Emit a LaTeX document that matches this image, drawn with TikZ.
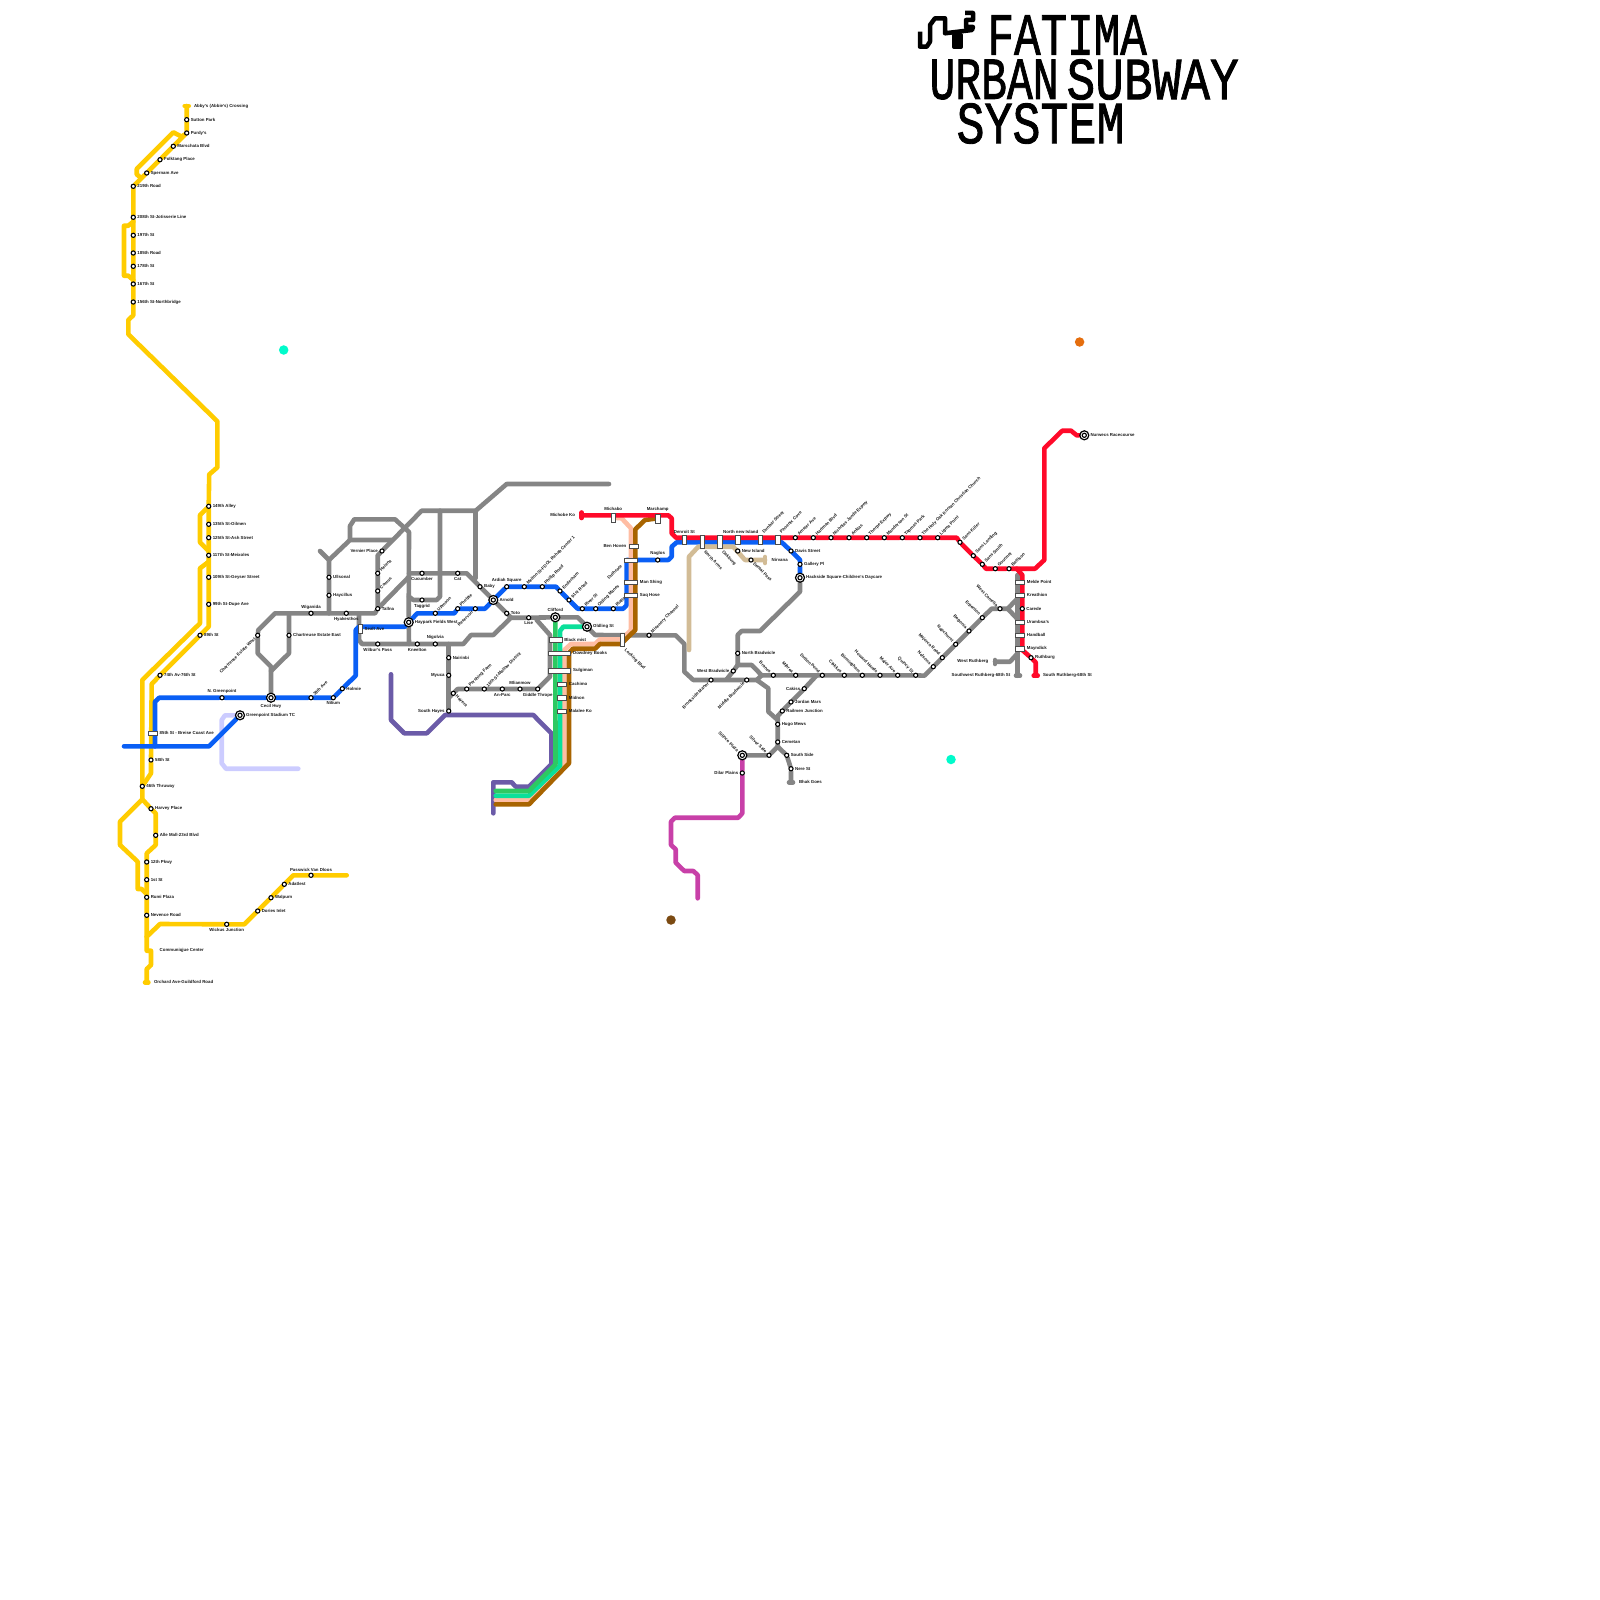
\documentclass[tikz,border=0pt]{standalone}
\usepackage{fontspec}
\setmainfont{Liberation Sans}
\newfontfamily\titlefont[FakeBold=1.5]{Liberation Mono}
\usetikzlibrary{positioning,backgrounds}
\definecolor{metroyel}{HTML}{FFCC00}
\definecolor{metroblu}{HTML}{0A5FF5}
\definecolor{metrored}{HTML}{FF0A2A}
\definecolor{metrogry}{HTML}{858585}
\definecolor{metropur}{HTML}{6B5BA8}
\definecolor{metrogrn}{HTML}{2DC962}
\definecolor{metroaqu}{HTML}{0AE09A}
\definecolor{metropea}{HTML}{FFBDA3}
\definecolor{metrobrn}{HTML}{A86400}
\definecolor{metrotan}{HTML}{D2BC96}
\definecolor{metrolav}{HTML}{CCCCFF}
\definecolor{metromag}{HTML}{C840A8}
\definecolor{spotcyan}{HTML}{00FBCB}
\definecolor{spotorng}{HTML}{E56E0E}
\definecolor{spotbrwn}{HTML}{7B4A12}
\tikzset{
  metro/.style={line width=0.046cm, line join=round, line cap=round},
  stn/.style={circle, draw=black, fill=white, line width=0.011cm, inner sep=0pt, minimum size=0.042cm},
  hubo/.style={circle, draw=black, fill=white, line width=0.012cm, inner sep=0pt, minimum size=0.09cm},
  xcw/.style={draw=black!70, fill=white, line width=0.005cm, inner sep=0pt, minimum width=0.09cm, minimum height=0.045cm},
  xcm/.style={xcw, minimum width=0.13cm},
  xcl/.style={xcw, minimum width=0.22cm},
  xct/.style={xcw, minimum width=0.045cm, minimum height=0.09cm},
  xcu/.style={xcw, minimum width=0.045cm, minimum height=0.13cm},
  lab/.style={font=\bfseries\fontsize{1.24}{1.4}\selectfont, text=black!90, inner xsep=0.034cm, inner ysep=0.034cm},
  labr/.style={lab, anchor=west},
  labl/.style={lab, anchor=east},
  laba/.style={lab, anchor=south},
  labb/.style={lab, anchor=north},
  labur/.style={lab, rotate=45, anchor=west},
  labdl/.style={lab, rotate=45, anchor=east},
  labdr/.style={lab, rotate=-45, anchor=west},
  labul/.style={lab, rotate=-45, anchor=east},
  labrr/.style={labr, inner xsep=0.015cm},
  labll/.style={labl, inner xsep=0.015cm},
  labaa/.style={laba, inner ysep=0.015cm},
  ttl/.style={font=\titlefont\fontsize{17}{17}\selectfont, anchor=west, inner sep=0pt, transform shape},
  spot/.style={circle, inner sep=0pt, minimum size=0.095cm},
}
\newcommand{\stp}[4]{\node[stn] (#1) at (#2) {}; \node[#3] (#1t) at (#1) {#4};}
\newcommand{\hubstp}[4]{\node[hubo] (#1) at (#2) {}; \node[stn] (#1c) at (#1) {}; \node[#3, inner xsep=0.055cm, inner ysep=0.055cm] (#1t) at (#1) {#4};}
\newcommand{\xch}[6]{\node[#3] (#1) at (#2) {}; \node[#5] (#1t) at (#1.#4) {#6};}
\begin{document}
\begin{tikzpicture}[x=0.01cm, y=-0.01cm]
  \useasboundingbox (0,0) rectangle (1600,1600);
  % title
  \node[ttl, xscale=0.74] (ttlone) at (987,35) {FATIMA};
  \node[ttl, xscale=0.72] (ttlurb) at (929,79.5) {URBAN};
  \node[ttl, xscale=0.80] (ttlsub) at (1066,79.5) {SUBWAY};
  \node[ttl, xscale=0.78] (ttlsys) at (956,123.5) {SYSTEM};
  \draw[line width=0.045cm, line join=round] (920,31.7) -- (920,46.7) -- (926.7,46.7) -- (930,41.7) -- (930,25) -- (935,18.3) -- (945,18.3) -- (945,33.3) -- (972,30) -- (973,27) -- (966,27) -- (966,20) -- (973,20) -- (973,13) -- (965,13);
  \fill[line width=0.04cm, draw=black, line join=round] (954,35) rectangle (961,47);
  % free spots
  \node[spot, fill=spotcyan] (spota) at (283.7,350) {};
  \node[spot, fill=spotcyan] (spotb) at (951,759.5) {};
  \node[spot, fill=spotorng] (spotc) at (1079.6,342) {};
  \node[spot, fill=spotbrwn] (spotd) at (671,920) {};
  % yellow stations
  \stp{sutton}{186.7,119.7}{labr}{Sutton Park}
  \stp{purdy}{186.7,133}{labr}{Purdy's}
  \stp{marsch}{173.3,146.3}{labr}{Marschata Blvd}
  \stp{folk}{160,159.7}{labr}{Folktang Place}
  \stp{spern}{146.7,173}{labr}{Spernam Ave}
  \stp{sttw}{133.3,186.3}{labr}{219th Road}
  \stp{stte}{133.3,217.3}{labr}{208th St-Jotisserie Line}
  \stp{stns}{133.3,235.3}{labr}{197th St}
  \stp{steif}{133.3,253}{labr}{185th Road}
  \stp{stse}{133.3,266.3}{labr}{178th St}
  \stp{stsix}{133.3,284}{labr}{167th St}
  \stp{stfif}{133.3,302}{labr}{156th St-Northbridge}
  \stp{alley}{208.7,506.3}{labr}{149th Alley}
  \stp{oilmen}{208.7,524.3}{labr}{135th St-Oilmen}
  \stp{ash}{208.7,537.7}{labr}{125th St-Ash Street}
  \stp{meix}{208.7,555.3}{labr}{117th St-Meixoles}
  \stp{geyser}{208.7,577.3}{labr}{109th St-Geyser Street}
  \stp{dupe}{208.7,604.3}{labr}{99th St-Dupe Ave}
  \stp{neight}{200,635.3}{labr}{89th St}
  \stp{seventy}{160,675.3}{labr}{74th Av-76th St}
  \stp{fiveeig}{151,760}{labr}{58th St}
  \stp{thruway}{142.3,786.3}{labr}{46th Thruway}
  \stp{harvey}{151,808.7}{labr}{Harvey Place}
  \stp{alle}{155.7,835.3}{labr}{Alle Mall-23rd Blvd}
  \stp{pkwy}{146.7,862}{labr}{12th Pkwy}
  \stp{first}{146.7,879.7}{labr}{1st St}
  \stp{rumi}{146.7,897.3}{labr}{Rumi Plaza}
  \stp{nevence}{146.7,915.3}{labr}{Nevence Road}
  \stp{wickus}{226.7,924.3}{labb}{Wickus Junction}
  \stp{dories}{257.7,911}{labr}{Dories Inlet}
  \stp{walpurn}{271,897.7}{labr}{Walpurn}
  \stp{adatlest}{284.3,884.3}{labr}{Adatlest}
  \stp{passw}{311,875.3}{laba}{Passwick Van Dloos}
  \node[lab, anchor=west, inner sep=0pt] (abbyt) at (193.3,106) {Abby's (Abbie's) Crossing};
  \node[lab, anchor=west, inner sep=0pt] (commt) at (159,950.7) {Communiqjue Center};
  \node[lab, anchor=west, inner sep=0pt] (orcht) at (153.3,982.3) {Orchard Ave-Guildford Road};
  % blue stations
  \stp{ngreen}{222,697.7}{laba}{N. Greenpoint}
  \hubstp{cecil}{271,697.7}{labb}{Cecil Hwy}
  \stp{nine}{311,697.7}{labur}{39th Ave}
  \stp{nilium}{333.3,697.7}{labb}{Nilium}
  \stp{holmie}{342.3,688.7}{labr}{Holmie}
  \hubstp{gstad}{240,715.3}{labr}{Greenpoint Stadium TC}
  \xch{breise}{152.7,733.3}{xcw}{east}{labrr}{85th St - Breise Coast Ave}
  \xch{sealt}{360,629}{xct}{east}{labrr}{Sealt Ave}
  \hubstp{haypark}{408.7,622.3}{labr}{Haypark Fields West}
  \stp{upmoon}{435.3,613.3}{labur}{Upmoon}
  \stp{phetpie}{457.7,608.7}{labur}{Phetpie}
  \stp{reserv}{475.3,608.7}{labdl}{Reservoir}
  \hubstp{arnold}{493.3,600}{labr}{Arnold}
  \stp{ardiah}{506.7,586.7}{laba}{Ardiah Square}
  \stp{melton}{524.3,586.7}{labur}{Melton St-FDOL Rehab Center 1}
  \stp{phillip}{542.3,586.7}{labur}{Phillip Road}
  \stp{ender}{560,591}{labur}{Enderham}
  \stp{nfirst}{569,600}{labur}{91st Road}
  \stp{river}{582.3,608.7}{labur}{River St}
  \stp{oldman}{595.7,608.7}{labur}{Olding Manes}
  \stp{rialto}{613.3,608.7}{labur}{Rialto}
  \stp{naglos}{657.7,560}{laba}{Naglos}
  \stp{davis}{791,551}{labr}{Davis Street}
  \stp{gallery}{800,564.3}{labr}{Gallery Pl}
  \hubstp{hackside}{800,577.7}{labr}{Hackside Square-Children's Daycare}
  % gray stations, middle
  \stp{ulls}{329,577.3}{labr}{Ullsonal}
  \stp{hayc}{329,595.3}{labr}{Haycillus}
  \stp{wiga}{311,613.3}{laba}{Wiganida}
  \stp{hyak}{346.3,613.3}{labb}{Hyakesthos}
  \stp{tallna}{377.7,608.7}{labr}{Tallna}
  \stp{vernier}{382,551}{labl}{Vernier Place}
  \stp{helena}{377.7,573.3}{labur}{Helena}
  \stp{comus}{377.7,591}{labur}{Comus}
  \stp{chaw}{257.7,635.3}{labdl}{Chartreuse Estate West}
  \stp{chae}{289,635.3}{labr}{Chartreuse Estate East}
  \stp{wilbur}{377.7,644}{labb}{Wilbur's Pass}
  \stp{kneel}{417.3,644}{labb}{Kneelton}
  \stp{nigol}{435.3,644}{laba}{Nigolvia}
  \stp{cucum}{422,573.3}{labb}{Cucumber}
  \stp{cat}{457.7,573.3}{labb}{Cat}
  \stp{tagg}{422,600}{labb}{Taggrid}
  \stp{baby}{480,586.7}{labr}{Baby}
  \stp{toto}{506.7,613.3}{labr}{Toto}
  \stp{lise}{528.7,617.7}{labb}{Lise}
  \hubstp{clifford}{555.3,617.3}{laba}{Clifford}
  \hubstp{oldling}{587,626.7}{labr}{Oldling St}
  \stp{misen}{649,635.3}{labur}{Misenery Channel}
  \stp{nairin}{448.7,657.7}{labr}{Nairinbi}
  \stp{myuca}{448.7,675.3}{labl}{Myuca}
  \stp{shayes}{448.7,711}{labl}{South Hayes}
  \stp{hayera}{453.3,693.3}{labdr}{Hayera}
  \stp{persh}{466.7,689}{labur}{Pershing Farm}
  \stp{mallow}{484.3,689}{labur}{16th St-Mallow District}
  \stp{anparc}{502.3,689}{labb}{An-Parc}
  \stp{mlian}{520,689}{laba}{Mlianmow}
  \stp{giddle}{537.7,689}{labb}{Giddle Thrope}
  % gray stations, east
  \stp{brook}{711,680}{labdl}{Brookside Manor}
  \stp{midbrad}{746.7,680}{labdl}{Middle Bradwicle}
  \stp{wbrad}{733.3,671}{labl}{West Bradwicle}
  \stp{nbrad}{737.7,653.3}{labr}{North Bradwicle}
  \stp{branes}{773.3,675.3}{labul}{Branes}
  \stp{mibrea}{795.7,675.3}{labul}{Mibrea}
  \stp{dutton}{822.3,675.3}{labul}{Dutton Pond}
  \stp{clakkes}{844.3,675.3}{labul}{Clakkes}
  \stp{birming}{862.3,675.3}{labul}{Birmingham}
  \stp{howard}{880,675.3}{labul}{Howard Hands}
  \stp{major}{897.7,675.3}{labul}{Major Ave}
  \stp{quincy}{915.7,675.3}{labul}{Quincy St}
  \stp{nelsons}{933.3,666.7}{labul}{Nelsons}
  \stp{majorca}{942.3,657.7}{labul}{Majorca Road}
  \stp{napch}{955.7,644.3}{labul}{Napchurst}
  \stp{begonia}{969,631}{labul}{Begonia}
  \stp{erpen}{982.3,617.7}{labul}{Erpenton}
  \stp{camelia}{1000,608.7}{labul}{West Camelia}
  \stp{cakiss}{804.3,688.7}{labl}{Cakiss}
  \stp{jordan}{791,702}{labr}{Jordan Mars}
  \stp{railmen}{782.3,711}{labr}{Railmen Junction}
  \stp{hugo}{777.7,724.3}{labr}{Hugo Mews}
  \stp{cemetan}{777.7,742}{labr}{Cemetan}
  \stp{silver}{769,755.3}{labul}{Silver Side}
  \hubstp{silince}{742.3,755.3}{labul}{Silince Plaza}
  \stp{sside}{786.7,755.3}{labr}{South Side}
  \stp{nere}{791,768.7}{labr}{Nere St}
  \stp{dilar}{742.3,773}{labl}{Dilar Plains}
  \node[lab, anchor=west, inner sep=0pt] (bhakt) at (798.3,782.3) {Bhak Goes};
  \node[lab, anchor=east, inner sep=0pt] (wruth) at (989,661.7) {West Ruthberg};
  \node[lab, anchor=east, inner sep=0pt] (swruth) at (1011,675.7) {Southwest Ruthberg-68th St};
  % red stations
  \stp{amster}{795.3,537.7}{labur}{Amster Ave}
  \stp{hartman}{813.3,537.7}{labur}{Hartman Blvd}
  \stp{nichol}{831,537.7}{labur}{Nicholas Jande Expwy}
  \stp{anklas}{849,537.7}{labur}{Anklas}
  \stp{thorpe}{866.7,537.7}{labur}{Thorpe Expwy}
  \stp{mander}{884.3,537.7}{labur}{Manderson St}
  \stp{tapmas}{902.3,537.7}{labur}{Tapmas Park}
  \stp{holyoak}{920,537.7}{labur}{The Holy Oak Korean Christian Church}
  \stp{ligma}{937.7,537.7}{labur}{Ligma Point}
  \stp{killer}{960,542.3}{labur}{Sans Killer}
  \stp{landing}{973.3,555.7}{labur}{Sans Landing}
  \stp{smith}{982.3,564.3}{labur}{Sans Smith}
  \stp{gourmet}{995.3,568.7}{labur}{Gourmet}
  \stp{battison}{1009,568.7}{labur}{Battison}
  \stp{carede}{1022.3,608.7}{labr}{Carede}
  \stp{ruthb}{1031,657.7}{labr}{Ruthburg}
  \hubstp{nurwecs}{1084.3,435.3}{labr}{Nurwecs Racecourse}
  \stp{newisl}{737.7,551}{labr}{New Island}
  \stp{dental}{751,560}{labdr}{Dental Pass}
  \node[lab, anchor=west, inner sep=0pt] (nirvt) at (771,559.7) {Nirvana};
  \node[lab, anchor=east, inner sep=0pt] (michot) at (575.7,515.3) {Michobe Ko};
  \node[lab, anchor=west, inner sep=0pt] (sruth) at (1042.3,675.7) {South Ruthberg-68th St};
  % interchange boxes
  \xch{michabo}{613.3,517.7}{xct}{north}{labaa}{Michabo}
  \xch{marchamp}{657.7,518.3}{xct}{north}{labaa}{Marchamp}
  \xch{denroit}{684.3,540}{xct}{north}{labaa}{Denroit St}
  \xch{narms}{702,542}{xcu}{south}{labdr}{North Arms}
  \xch{oakburg}{719.7,542}{xcu}{south}{labdr}{Oakburg}
  \xch{nnisl}{737.7,540}{xct}{north}{labaa, xshift=0.03cm}{North new Island}
  \xch{dunbar}{760,540}{xct}{north}{labur}{Dunbar Street}
  \xch{phoenix}{777.7,540}{xct}{north}{labur}{Phoenix Cove}
  \xch{benhov}{633.3,546.3}{xcw}{west}{labll}{Ben Hoven}
  \xch{duth}{631,560}{xcm}{south west}{labdl}{Duthcote}
  \xch{manshing}{631,582}{xcm}{east}{labrr}{Man Shing}
  \xch{saqhose}{631,595.3}{xcm}{east}{labrr}{Saq Hose}
  \xch{locking}{622.3,640}{xcu}{south}{labdr}{Locking Blvd}
  \xch{blackm}{555.3,639.7}{xcm}{east}{labrr}{Black mist}
  \xch{dowdney}{559.7,653}{xcl}{east}{labrr}{Dowdney Books}
  \xch{sulgim}{559.7,670.7}{xcl}{east}{labrr}{Sulgiman}
  \xch{cachimo}{562,684.3}{xcw}{east}{labrr}{Cachimo}
  \xch{midnon}{562,697.7}{xcw}{east}{labrr}{Midnon}
  \xch{malalee}{562,711}{xcw}{east}{labrr}{Malalee Ko}
  \xch{melde}{1020,582}{xcw}{east}{labrr}{Melde Point}
  \xch{kreath}{1020,595.3}{xcw}{east}{labrr}{Kreathion}
  \xch{uramb}{1020,622}{xcw}{east}{labrr}{Urambsa's}
  \xch{handb}{1020,635.3}{xcw}{east}{labrr}{Handball}
  \xch{maynd}{1020,648.7}{xcw}{east}{labrr}{Mayndick}
  \begin{scope}[on background layer]
    % gray lines
    \draw[metro, metrogry] (320,551) -- (329,560) -- (ulls) -- (hayc) -- (329,613.3);
    \draw[metro, metrogry] (cecil) -- (271,666.7) -- (257.7,653.3) -- (chaw) -- (258.3,630) -- (275,613.3) -- (wiga) -- (hyak) -- (375,613.3) -- (tallna) -- (comus) -- (helena) -- (377.7,555.3) -- (vernier) -- (421.7,510.7) -- (475.7,510.7) -- (506.7,484) -- (609,484);
    \draw[metro, metrogry] (271,671) -- (289,653.3) -- (chae) -- (289,613.3);
    \draw[metro, metrogry] (329,560) -- (350,540) -- (391.7,540);
    \draw[metro, metrogry] (350,540) -- (350,526) -- (354.3,519.3) -- (395,519.3) -- (409,532) -- (haypark) -- (409,644);
    \draw[metro, metrogry] (tallna) -- (409,576.7);
    \draw[metro, metrogry] (359,613.3) -- (359,640) -- (362,644) -- (wilbur) -- (kneel) -- (nigol) -- (463.3,644) -- (471,635) -- (493.3,635) -- (511,617.7) -- (lise) -- (clifford) -- (577.7,617.3) -- (595,635) -- (misen) -- (675.7,635.3) -- (684.3,644) -- (684.3,671.7) -- (693.3,680) -- (brook) -- (midbrad) -- (756.7,680) -- (768.3,688.3) -- (768.3,711.7) -- (777.7,720);
    \draw[metro, metrogry] (409,573.3) -- (cucum) -- (cat) -- (466.7,573.3) -- (baby) -- (arnold) -- (toto) -- (511,617.7);
    \draw[metro, metrogry] (440,510.7) -- (440,596.7) -- (436.7,600) -- (tagg) -- (413.3,600) -- (409,596.7);
    \draw[metro, metrogry] (475.7,510.7) -- (475.7,578);
    \draw[metro, metrogry] (536.7,620) -- (550,635) -- (550,676.7) -- (giddle) -- (mlian) -- (anparc) -- (mallow) -- (persh) -- (457.7,689) -- (hayera) -- (448.7,698);
    \draw[metro, metrogry] (448.7,644) -- (nairin) -- (myuca) -- (shayes);
    \draw[metro, metrogry] (hackside) -- (800,591.7) -- (760,631) -- (741.7,631) -- (737.7,635) -- (nbrad) -- (737.7,665) -- (751.7,665) -- (761.7,675.3) -- (branes) -- (mibrea) -- (dutton) -- (clakkes) -- (birming) -- (howard) -- (major) -- (quincy) -- (924.3,675.7) -- (nelsons) -- (majorca) -- (napch) -- (begonia) -- (erpen) -- (991.7,608.7) -- (camelia) -- (1007.7,608.7) -- (1017.7,598.3);
    \draw[metro, metrogry] (1007.7,608.7) -- (1017.7,619.3);
    \draw[metro, metrogry] (wbrad) -- (726.7,679.3);
    \draw[metro, metrogry] (737.7,665) -- (wbrad);
    \draw[metro, metrogry] (756.7,680) -- (761.7,675.3);
    \draw[metro, metrogry] (816.7,675.3) -- (cakiss) -- (jordan) -- (railmen) -- (777.7,716) -- (hugo) -- (cemetan) -- (777.7,746.7) -- (sside) -- (nere) -- (791,782.3);
    \draw[metro, metrogry] (777.7,746.7) -- (silver) -- (silince);
    \draw[metro, metrogry] (789,782.3) -- (793,782.3);
    \draw[metro, metrogry] (1017.7,575) -- (1017.7,675.7);
    \draw[metro, metrogry] (1016,675.7) -- (1020,675.7);
    \draw[metro, metrogry] (1017.7,653.3) -- (1010,661.7) -- (995,661.7);
    \draw[metro, metrogry] (995,660) -- (995,664);
    % yellow lines
    \draw[metro, metroyel] (184.7,106) -- (188.7,106);
    \draw[metro, metroyel] (186.7,106) -- (sutton) -- (purdy) -- (marsch) -- (folk) -- (spern) -- (sttw) -- (stte) -- (stns) -- (steif) -- (stse) -- (stsix) -- (stfif) -- (133.3,315.3) -- (128.3,320) -- (128.3,334.3) -- (217.4,421.4) -- (217.4,467.3) -- (209.2,474.5) -- (alley) -- (oilmen) -- (ash) -- (meix) -- (geyser) -- (dupe) -- (208.7,626.7) -- (neight) -- (seventy) -- (151.7,684) -- (fiveeig) -- (151,773.3) -- (thruway) -- (142.3,799.3) -- (harvey) -- (155.7,813.3) -- (alle) -- (155.7,845) -- (146.7,853.3) -- (pkwy) -- (first) -- (rumi) -- (nevence) -- (146.7,950.7) -- (151,950.7) -- (151,965) -- (146.7,969) -- (146.7,982.3);
    \draw[metro, metroyel] (145,982.3) -- (148.4,982.3);
    \draw[metro, metroyel] (purdy) -- (181.7,136.7) -- (173.3,132.3) -- (136.7,169) -- (136.7,174.3) -- (141,178);
    \draw[metro, metroyel] (133.3,221.7) -- (128.3,225.7) -- (124,225.7) -- (124,275.7) -- (128.3,275.7) -- (133.3,280);
    \draw[metro, metroyel] (alley) -- (200,515) -- (200,542.3) -- (208.7,551);
    \draw[metro, metroyel] (208.7,561.7) -- (200,568.3) -- (200,623.3) -- (142.3,680) -- (thruway);
    \draw[metro, metroyel] (142.3,799.3) -- (120,821.7) -- (120,845) -- (137.7,861.7) -- (137.7,889) -- (141.7,889) -- (146.7,894);
    \draw[metro, metroyel] (146.7,936.7) -- (160,924) -- (wickus) -- (244.3,924.3) -- (dories) -- (walpurn) -- (adatlest) -- (293.3,875.3) -- (passw) -- (346.7,875.3);
    % lavender and blue
    \draw[metro, metrolav] (gstad) -- (225,715.3) -- (221.7,720) -- (221.7,763.3) -- (226,768.7) -- (298.3,768.7);
    \draw[metro, metroblu] (124,746.3) -- (209,746.3) -- (gstad);
    \draw[metro, metroblu] (155,746.3) -- (155,701.7) -- (159.3,697.7) -- (ngreen) -- (cecil) -- (nine) -- (nilium) -- (holmie) -- (355.7,675.7) -- (355.7,630) -- (359,626.7) -- (405,626.7) -- (haypark) -- (417.3,613.3) -- (upmoon) -- (454.3,613.3) -- (phetpie) -- (reserv) -- (485,608.7) -- (arnold) -- (ardiah) -- (melton) -- (phillip) -- (556,586.7) -- (ender) -- (nfirst) -- (577.7,608.7) -- (river) -- (oldman) -- (rialto) -- (623.3,608.7) -- (626.7,605) -- (626.7,560) -- (naglos) -- (668.3,560) -- (671.7,556.7) -- (671.7,546.7) -- (676.7,542.3) -- (781.7,542.3) -- (davis) -- (800,560) -- (gallery) -- (hackside);
    % tan, magenta, purple
    \draw[metro, metrotan] (765,557) -- (765,563);
    \draw[metro, metrotan] (765,560) -- (dental) -- (745,560) -- (733.3,546.7) -- (698.3,546.7) -- (689,556.7) -- (689,650);
    \draw[metro, metromag] (silince) -- (dilar) -- (742.3,813.3) -- (738.3,817.7) -- (675,817.7) -- (671,821.7) -- (671,845) -- (675.7,849.3) -- (675.7,862.7) -- (684.3,871) -- (693.3,871) -- (697.7,875) -- (697.7,898.3);
    \draw[metro, metropur] (391,674.3) -- (391,720) -- (404.3,733.3) -- (426.7,733.3) -- (445,715) -- (533.3,715) -- (551.3,733.3) -- (551.3,764.3) -- (529,786.7) -- (515.7,786.7) -- (511.7,782.3) -- (493.3,782.3) -- (493.3,813.3);
    % peach, brown, aqua, green
    \draw[metro, metropea] (michabo) -- (621.7,518.3) -- (631,528.3) -- (631,630) -- (622,639.3) -- (600,639.3) -- (595,644) -- (571,644) -- (564.3,650) -- (564.3,763.3) -- (529,800) -- (495.7,800);
    \draw[metro, metrobrn] (marchamp) -- (645,520) -- (635.3,529.3) -- (635.3,630) -- (621,644) -- (600,644) -- (595,648.7) -- (573,648.7) -- (569,653) -- (569,763.3) -- (529,804.3) -- (495.7,804.3);
    \draw[metro, metroaqu] (oldling) -- (563.3,626.7) -- (560,631) -- (560,765.7) -- (529,795.7) -- (495.7,795.7);
    \draw[metro, metrogrn] (clifford) -- (555.5,764.3) -- (529,791) -- (495.7,791);
    % red lines
    \draw[metro, metrored] (581.7,512.5) -- (581.7,518);
    \draw[metro, metrored] (581.7,515.3) -- (668.3,515.3) -- (671.7,518.3) -- (671.7,533.3) -- (676,537.7) -- (amster) -- (hartman) -- (nichol) -- (anklas) -- (thorpe) -- (mander) -- (tapmas) -- (holyoak) -- (ligma) -- (956.7,537.7) -- (killer) -- (landing) -- (smith) -- (986,568.7) -- (gourmet) -- (battison) -- (1035,568.7) -- (1044.3,560) -- (1044.3,448.3) -- (1062.3,430.7) -- (1071,430.7) -- (1076.7,435.3) -- (nurwecs);
    \draw[metro, metrored] (1016.7,568.7) -- (1022.3,575) -- (carede) -- (1022.3,650) -- (ruthb) -- (1035.7,662.3) -- (1035.7,675.7);
    \draw[metro, metrored] (1033.7,675.7) -- (1037.7,675.7);
  \end{scope}
\end{tikzpicture}
\end{document}
